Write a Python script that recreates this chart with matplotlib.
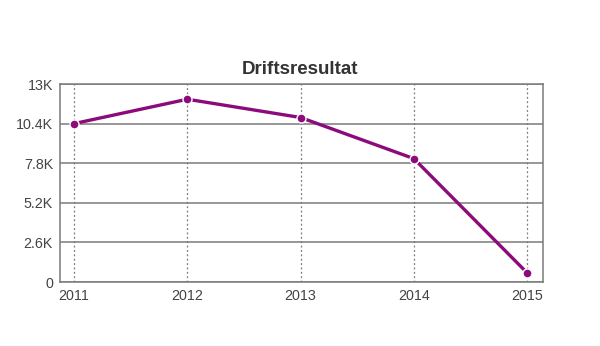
import numpy as np
import matplotlib.pyplot as plt
from matplotlib.ticker import FixedLocator

# data
years = [2011, 2012, 2013, 2014, 2015]
values = [10400, 12000, 10800, 8100, 600]
yticks = [0, 2600, 5200, 7800, 10400, 13000]
ylabels = ['0', '2.6K', '5.2K', '7.8K', '10.4K', '13K']

plt.rcParams['font.family'] = ['Liberation Sans', 'DejaVu Sans']

fig = plt.figure(figsize=(6, 3.46), dpi=100)
ax = fig.add_axes([60/600, 1 - 282/346, (543-60)/600, (282-84)/346])

grid_col = '#7a7a7a'
for y in yticks:
    ax.axhline(y, color=grid_col, lw=1.1, zorder=1)
for x in years:
    ax.axvline(x, color=grid_col, lw=0.9, ls=(0, (1.5, 2)), zorder=1)

ax.plot(years, values, color='#8c0b7b', lw=2.4, zorder=3,
        marker='o', ms=6.5, mfc='#8c0b7b', mec='white', mew=1.0)

ax.set_xlim(2010.876, 2015.14)
ax.set_ylim(0, 13000)
ax.yaxis.set_major_locator(FixedLocator(yticks))
ax.set_yticklabels(ylabels)
ax.set_xticks(years)
ax.set_xticklabels([str(y) for y in years])
ax.tick_params(length=0, labelsize=10.3, colors='#444444', pad=5)

for s in ax.spines.values():
    s.set_color(grid_col)
    s.set_linewidth(1.1)

fig.text(0.5, 1 - 70/346, 'Driftsresultat', ha='center', va='center',
         fontsize=13.5, fontweight='bold', color='#333333')

fig.savefig('out.png', dpi=100)
